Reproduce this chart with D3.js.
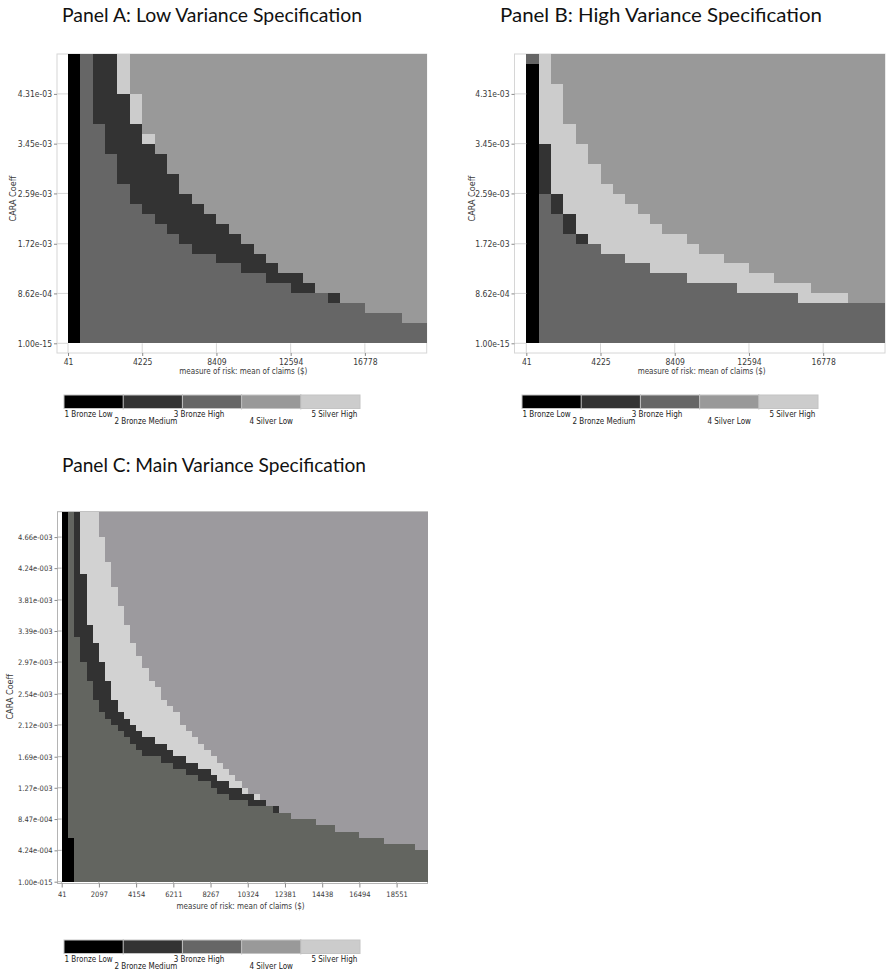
<!DOCTYPE html>
<html>
<head>
<meta charset="utf-8">
<script src="https://cdn.jsdelivr.net/npm/d3@7"></script>
<style>
  body { margin: 0; background: #fff; }
  svg text { font-family: "Liberation Sans Narrow", "DejaVu Sans Condensed", "Liberation Sans", sans-serif; }
  .title { font-family: Lato, "Open Sans", sans-serif !important; font-size: 20px; fill: #111; }
</style>
</head>
<body>
<div id="chart"></div>
<script>
// plan codes: 1 Bronze Low, 2 Bronze Medium, 3 Bronze High, 4 Silver Low, 5 Silver High
const planNames = ["1 Bronze Low", "2 Bronze Medium", "3 Bronze High", "4 Silver Low", "5 Silver High"];
const planColors = ["#000000", "#333333", "#666666", "#999999", "#cccccc"];
const planColorsC = ["#000000", "#323232", "#636560", "#9c9a9e", "#d2d2d2"];

// axis ticks
const xTicksAB = [41, 4225, 8409, 12594, 16778];
const yTickValsAB = [1e-15, 8.62e-4, 1.72e-3, 2.59e-3, 3.45e-3, 4.31e-3];
const yTickLabelsAB = ["1.00e-15", "8.62e-04", "1.72e-03", "2.59e-03", "3.45e-03", "4.31e-03"];
const xTicksC = [41, 2097, 4154, 6211, 8267, 10324, 12381, 14438, 16494, 18551];
const yTickValsC = [1e-15, 4.24e-4, 8.47e-4, 1.27e-3, 1.69e-3, 2.12e-3, 2.54e-3, 2.97e-3, 3.39e-3, 3.81e-3, 4.24e-3, 4.66e-3];
const yTickLabelsC = ["1.00e-015", "4.24e-004", "8.47e-004", "1.27e-003", "1.69e-003", "2.12e-003",
  "2.54e-003", "2.97e-003", "3.39e-003", "3.81e-003", "4.24e-003", "4.66e-003"];

// each grid row (top row first) is read as runs:
// black | bronze high | bronze medium | silver high | silver low
// the arrays hold the column where each run after the first starts
const blackEndA   = [1,1,1,1,1,1,1,1,1,1, 1,1,1,1,1,1,1,1,1,1, 1,1,1,1,1,1,1,1,1];
const darkStartA  = [2,2,2,2,2,2,2, 3,3,3, 4,4,4, 5,5, 6,7,8,9,10, 12,14,16,18,21, 24,27,29,29];
const lightStartA = [4,4,4,4, 5,5,5, 6,6, 7, 8,8, 9,9, 10,11,12,13,14,15,16,17,19,20,22,24,27, 29,29];
const silverStartA= [5,5,5,5, 6,6,6,6, 7,7, 8,8, 9,9, 10,11,12,13,14,15,16,17,19,20,22,24,27, 29,29];

const blackEndB   = [0,1,1,1,1,1,1,1,1,1, 1,1,1,1,1,1,1,1,1,1, 1,1,1,1,1,1,1,1,1];
const darkStartB  = [1,1,1,1,1,1,1,1,1,1,1,1,1,1, 2,2, 3,3, 4, 6,8,10,13,17,22, 29,29,29,29];
const lightStartB = [1,1,1,1,1,1,1,1,1, 2,2,2,2,2, 3,3, 4,4, 5, 6,8,10,13,17,22, 29,29,29,29];
const silverStartB= [2,2,2, 3,3,3,3, 4,4, 5,5, 6,6, 7,8,9,10,11,13,14,16,18,20,23,26, 29,29,29,29];

const blackEndC = [1,1,1,1,1,1,1,1,1,1, 1,1,1,1,1,1,1,1,1,1, 1,1,1,1,1,1,1,1,1,1,
  1,1,1,1,1,1,1,1,1,1, 1,1,1,1,1,1,1,1,1,1, 1,1, 2,2,2,2,2,2,2];
const darkStartC = [2,2,2,2,2,2,2,2,2,2, 2,2,2,2,2,2,2,2,2,2, 3,3,3,3, 4,4,4, 5,5,5, 6,6,
  7,8,9,10,11,12,13,16,18,20,22,24,25,27,30,34,37,41,44,48,52,57, 59,59,59,59,59];
const lightStartC = [3,3,3,3,3,3,3,3,3,3, 4,4,4,4,4,4,4,4, 5,5,5, 6,6,6, 7,7,7, 8,8,8, 9,9,
  10,11,12,13,15,17,18,20,22,24,25,27,29,31,33,35,37,41,44,48,52,57, 59,59,59,59,59];
const silverStartC = [6,6,6,6, 7,7,7,7, 8,8,8,8, 9,9,9, 10,10,10, 11,11,11, 12,12, 13,13, 14,14, 15, 16,16, 17, 18, 19,19,
  20,21,22,23,24,25,26,27,28,29,30,32,33,35,37,41,44,48,52,57, 59,59,59,59,59];

const svg = d3.select("#chart").append("svg")
  .attr("width", 890)
  .attr("height", 970)
  .style("display", "block");

svg.append("rect").attr("width", 890).attr("height", 970).attr("fill", "#fff");

function drawPanel(p) {
  const nRows = p.darkStart.length;
  const nCols = p.nCols;
  const x0 = p.xTicks[0];
  const xStep = (p.xTicks[1] - p.xTicks[0]) / 6;
  const yStep = p.yTickVals[1] / 5;

  const xScale = d3.scaleLinear()
    .domain([x0, x0 + nCols * xStep])
    .range([p.left, p.left + p.width]);
  const yScale = d3.scaleLinear()
    .domain([0, nRows * yStep])
    .range([p.top + p.height, p.top]);

  // split every row into its colour runs
  const runs = [];
  p.darkStart.forEach((d, r) => {
    const bounds = [0, p.blackEnd[r], d, p.lightStart[r], p.silverStart[r], nCols];
    [1, 3, 2, 5, 4].forEach((code, k) => {
      if (bounds[k + 1] > bounds[k]) runs.push({ row: r, c0: bounds[k], c1: bounds[k + 1], code });
    });
  });

  const g = svg.append("g");

  // frame (top + right light lines, axis lines left + bottom)
  g.append("rect")
    .attr("x", p.yAxisX)
    .attr("y", p.top)
    .attr("width", p.left + p.width - p.yAxisX)
    .attr("height", p.xAxisY - p.top)
    .attr("fill", "none")
    .attr("stroke", p.frame)
    .attr("stroke-width", 1);

  g.selectAll("rect.cell")
    .data(runs)
    .join("rect")
    .attr("class", "cell")
    .attr("x", d => xScale(x0 + d.c0 * xStep))
    .attr("width", d => xScale(x0 + d.c1 * xStep) - xScale(x0 + d.c0 * xStep))
    .attr("y", d => yScale((nRows - d.row) * yStep))
    .attr("height", d => yScale((nRows - d.row - 1) * yStep) - yScale((nRows - d.row) * yStep))
    .attr("fill", d => p.colors[d.code - 1])
    .attr("shape-rendering", "crispEdges");

  // inner tick lines between axis line and plot
  g.selectAll("line.ytin")
    .data(p.yTickVals)
    .join("line")
    .attr("x1", p.yAxisX).attr("x2", p.left)
    .attr("y1", d => yScale(d)).attr("y2", d => yScale(d))
    .attr("stroke", p.frame);
  g.selectAll("line.xtin")
    .data(p.xTicks)
    .join("line")
    .attr("y1", p.top + p.height).attr("y2", p.xAxisY)
    .attr("x1", d => xScale(d)).attr("x2", d => xScale(d))
    .attr("stroke", p.frame);

  const yAxis = g.append("g")
    .attr("transform", `translate(${p.yAxisX},0)`)
    .call(d3.axisLeft(yScale)
      .tickValues(p.yTickVals)
      .tickFormat((d, i) => p.yTickLabels[i])
      .tickSizeInner(3).tickSizeOuter(0).tickPadding(2));
  const xAxis = g.append("g")
    .attr("transform", `translate(0,${p.xAxisY})`)
    .call(d3.axisBottom(xScale)
      .tickValues(p.xTicks)
      .tickFormat(d3.format("d"))
      .tickSizeInner(p.xTickSize).tickSizeOuter(0).tickPadding(p.xTickPad));
  [yAxis, xAxis].forEach(a => {
    a.select(".domain").remove();
    a.selectAll(".tick line").attr("stroke", "#8a8a8a");
    a.selectAll(".tick text")
      .attr("fill", "#3a3a3a")
      .style("font-size", p.tickFont + "px");
  });

  g.append("text")
    .attr("transform", `translate(${p.yTitleX},${p.top + p.height / 2}) rotate(-90)`)
    .attr("text-anchor", "middle")
    .attr("dy", "0.35em")
    .attr("fill", "#3a3a3a")
    .style("font-size", "9px")
    .text("CARA Coeff");

  g.append("text")
    .attr("x", p.left + p.width / 2 - 4)
    .attr("y", p.xTitleY)
    .attr("text-anchor", "middle")
    .attr("fill", "#3a3a3a")
    .style("font-size", "8px")
    .text("measure of risk: mean of claims ($)");

  g.append("text")
    .attr("class", "title")
    .attr("x", p.titleX)
    .attr("y", p.titleY)
    .attr("textLength", p.titleLen)
    .attr("lengthAdjust", "spacingAndGlyphs")
    .text(p.title);

  // colour legend bar
  const lg = g.append("g");
  const lx = d3.scaleBand()
    .domain(planNames)
    .range([p.legendX, p.legendX + 296]);
  lg.selectAll("rect")
    .data(planNames)
    .join("rect")
    .attr("x", d => lx(d))
    .attr("y", p.legendY)
    .attr("width", lx.bandwidth())
    .attr("height", 13.5)
    .attr("fill", (d, i) => planColors[i])
    .attr("shape-rendering", "crispEdges");
  lg.append("rect")
    .attr("x", p.legendX).attr("y", p.legendY)
    .attr("width", 296).attr("height", 13.5)
    .attr("fill", "none").attr("stroke", "#c4c4c4");
  lg.selectAll("line")
    .data(planNames.slice(1))
    .join("line")
    .attr("x1", d => lx(d)).attr("x2", d => lx(d))
    .attr("y1", p.legendY - 1).attr("y2", p.legendY + 14.5)
    .attr("stroke", "#c4c4c4");
  const nudge = [-5, -7, -13, 0, 4];
  lg.selectAll("text")
    .data(planNames)
    .join("text")
    .attr("x", (d, i) => lx(d) + lx.bandwidth() / 2 + nudge[i])
    .attr("y", (d, i) => p.legendY + 13.5 + (i % 2 ? 15.5 : 8))
    .attr("text-anchor", "middle")
    .attr("fill", "#222")
    .style("font-size", "8px")
    .text(d => d);
}

drawPanel({
  title: "Panel A: Low Variance Specification", titleX: 62, titleY: 22, titleLen: 300,
  blackEnd: blackEndA, darkStart: darkStartA, lightStart: lightStartA, silverStart: silverStartA,
  nCols: 29, xTicks: xTicksAB, yTickVals: yTickValsAB, yTickLabels: yTickLabelsAB,
  left: 68, top: 54, width: 358.7, height: 289.3, yAxisX: 57, xAxisY: 353,
  xTickSize: 3, xTickPad: 3, tickFont: 8.5, yTitleX: 13, xTitleY: 374,
  legendX: 64, legendY: 395, colors: planColors, frame: "#d6d6d6"
});

drawPanel({
  title: "Panel B: High Variance Specification", titleX: 500, titleY: 22, titleLen: 322,
  blackEnd: blackEndB, darkStart: darkStartB, lightStart: lightStartB, silverStart: silverStartB,
  nCols: 29, xTicks: xTicksAB, yTickVals: yTickValsAB, yTickLabels: yTickLabelsAB,
  left: 526.3, top: 54, width: 358.7, height: 289.3, yAxisX: 514.5, xAxisY: 353,
  xTickSize: 3, xTickPad: 3, tickFont: 8.5, yTitleX: 471.5, xTitleY: 374,
  legendX: 522, legendY: 395, colors: planColors, frame: "#d6d6d6"
});

drawPanel({
  title: "Panel C: Main Variance Specification", titleX: 62, titleY: 472, titleLen: 304,
  blackEnd: blackEndC, darkStart: darkStartC, lightStart: lightStartC, silverStart: silverStartC,
  nCols: 59, xTicks: xTicksC, yTickVals: yTickValsC, yTickLabels: yTickLabelsC,
  left: 61.7, top: 511.7, width: 365.8, height: 370, yAxisX: 57.5, xAxisY: 883.5,
  xTickSize: 4, xTickPad: 4, tickFont: 7.5, yTitleX: 10, xTitleY: 909,
  legendX: 64, legendY: 940, colors: planColorsC, frame: "#b4b4b4"
});
</script>
</body>
</html>
